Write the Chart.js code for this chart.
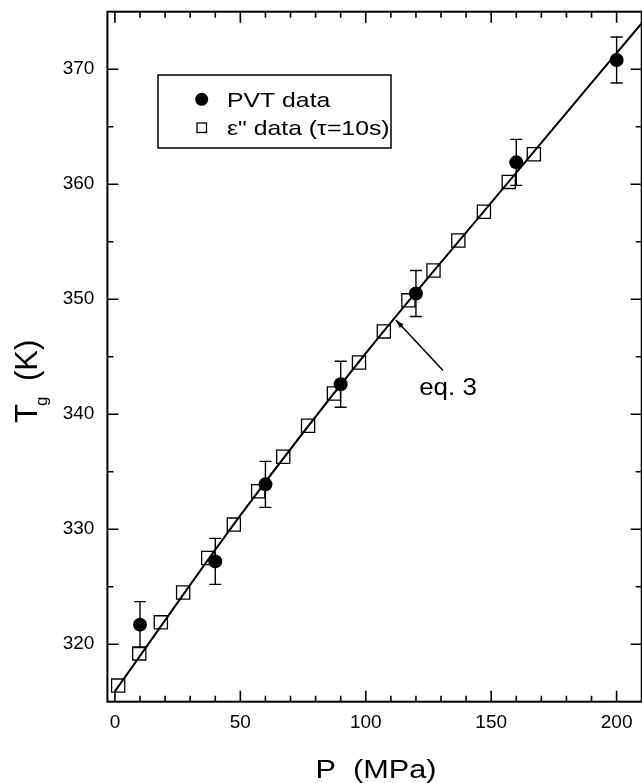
<!DOCTYPE html>
<html>
<head>
<meta charset="utf-8">
<script src="https://cdn.jsdelivr.net/npm/chart.js@4.4.0/dist/chart.umd.min.js"></script>
<style>
  html, body { margin: 0; padding: 0; background: #fff; }
  #wrap { width: 642px; height: 783px; }
</style>
</head>
<body>
<div id="wrap"><canvas id="chart" width="642" height="783"></canvas></div>
<script>
// PVT data (filled circles, error bars +-2 K)
const pvtP = [10, 40, 60, 90, 120, 160, 200];
const pvtT = [321.7, 327.2, 333.9, 342.6, 350.5, 361.9, 370.8];
const pvtErr = [2, 2, 2, 2, 2, 2, 2];

// dielectric data, tau = 10 s (open squares)
const epsP = [1.3, 9.7, 18.3, 27.2, 37.2, 47.4, 57.1, 67.1, 77.0, 87.3, 97.3, 107.2, 117.0, 127.0, 136.9, 147.1, 157.0, 167.0];
const epsT = [316.4, 319.2, 321.9, 324.5, 327.5, 330.4, 333.3, 336.3, 339.0, 341.8, 344.5, 347.2, 349.9, 352.5, 355.1, 357.6, 360.2, 362.6];

// eq. 3 curve
const fitP = [0, 50, 100, 150, 210];
const fitT = [315.9, 331.2, 345.3, 358.4, 374.0];

const xTicks = [0, 50, 100, 150, 200];
const yTicks = [320, 330, 340, 350, 360, 370];

const FONT = '"Liberation Sans", Arial, Helvetica, sans-serif';

function toPoints(xs, ys) {
    return xs.map((x, i) => ({ x: x, y: ys[i] }));
}

// text with a horizontal stretch, the scan is a bit wider than Arial
function stretchText(ctx, str, x, y, size, sx, align) {
    ctx.save();
    ctx.font = size + 'px ' + FONT;
    ctx.textBaseline = 'alphabetic';
    const w = ctx.measureText(str).width * sx;
    let left = x;
    if (align === 'center') left = x - w / 2;
    ctx.translate(left, y);
    ctx.scale(sx, 1);
    ctx.textAlign = 'left';
    ctx.fillText(str, 0, 0);
    ctx.restore();
}

// keep the plot box exactly where the scan has it
function noPadding(s) {
    s.paddingLeft = 0;
    s.paddingRight = 0;
    s.paddingTop = 0;
    s.paddingBottom = 0;
}

const framePlugin = {
    id: 'frame',
    afterDatasetsDraw(chart) {
        const ctx = chart.ctx;
        const xs = chart.scales.x;
        const ys = chart.scales.y;
        ctx.save();
        ctx.strokeStyle = '#000';
        ctx.lineWidth = 1.4;
        pvtP.forEach((p, i) => {
            const px = xs.getPixelForValue(p);
            const top = ys.getPixelForValue(pvtT[i] + pvtErr[i]);
            const bot = ys.getPixelForValue(pvtT[i] - pvtErr[i]);
            ctx.beginPath();
            ctx.moveTo(px, top); ctx.lineTo(px, bot);
            ctx.moveTo(px - 6, top); ctx.lineTo(px + 6, top);
            ctx.moveTo(px - 6, bot); ctx.lineTo(px + 6, bot);
            ctx.stroke();
        });
        ctx.restore();
    },
    afterDraw(chart) {
        const ctx = chart.ctx;
        const a = chart.chartArea;
        const xs = chart.scales.x;
        const ys = chart.scales.y;
        ctx.save();
        ctx.strokeStyle = '#000';
        ctx.fillStyle = '#000';

        // frame
        ctx.lineWidth = 2;
        ctx.strokeRect(a.left, a.top, a.right - a.left, a.bottom - a.top);

        // inward ticks on all four sides
        ctx.lineWidth = 1.6;
        ctx.beginPath();
        for (let v = 0; v <= 200; v += 10) {
            const px = xs.getPixelForValue(v);
            const len = v % 50 === 0 ? 11 : 6;
            ctx.moveTo(px, a.bottom); ctx.lineTo(px, a.bottom - len);
            ctx.moveTo(px, a.top); ctx.lineTo(px, a.top + len);
        }
        for (let v = 320; v <= 370; v += 5) {
            const py = ys.getPixelForValue(v);
            const len = v % 10 === 0 ? 11 : 6;
            ctx.moveTo(a.left, py); ctx.lineTo(a.left + len, py);
            ctx.moveTo(a.right, py); ctx.lineTo(a.right - len, py);
        }
        ctx.stroke();

        // legend box
        ctx.lineWidth = 1.5;
        ctx.strokeRect(158, 75, 233, 73);
        ctx.beginPath();
        ctx.arc(201.7, 99.3, 6.5, 0, Math.PI * 2);
        ctx.fill();
        ctx.lineWidth = 1.3;
        ctx.strokeRect(197, 123, 9.5, 9.5);
        stretchText(ctx, 'PVT data', 227, 106.5, 21, 1.18, 'left');
        stretchText(ctx, 'ε" data (τ=10s)', 227, 135, 21, 1.18, 'left');

        // arrow pointing at the eq. 3 line
        const hx = xs.getPixelForValue(112.0), hy = ys.getPixelForValue(348.2);
        const tx = xs.getPixelForValue(130.8), ty = ys.getPixelForValue(343.8);
        ctx.lineWidth = 1.5;
        ctx.beginPath();
        ctx.moveTo(tx, ty); ctx.lineTo(hx, hy);
        ctx.stroke();
        const ang = Math.atan2(hy - ty, hx - tx);
        ctx.beginPath();
        ctx.moveTo(hx, hy);
        ctx.lineTo(hx - 9 * Math.cos(ang - 0.3), hy - 9 * Math.sin(ang - 0.3));
        ctx.lineTo(hx - 9 * Math.cos(ang + 0.3), hy - 9 * Math.sin(ang + 0.3));
        ctx.closePath();
        ctx.fill();
        stretchText(ctx, 'eq. 3', xs.getPixelForValue(121.3), ys.getPixelForValue(341.7), 24, 1.08, 'left');

        // axis titles
        stretchText(ctx, 'P  (MPa)', 376, 778, 26, 1.18, 'center');

        ctx.translate(37, 380);
        ctx.rotate(-Math.PI / 2);
        ctx.textAlign = 'left';
        ctx.textBaseline = 'alphabetic';
        ctx.font = '31px ' + FONT;
        ctx.fillText('T', -43, 0);
        ctx.font = '17px ' + FONT;
        ctx.fillText('g', -26, 10);
        ctx.font = '31px ' + FONT;
        ctx.fillText('(K)', -1, 0);
        ctx.restore();
    }
};

new Chart(document.getElementById('chart'), {
    type: 'scatter',
    data: {
        datasets: [
            {
                label: 'PVT data',
                data: toPoints(pvtP, pvtT),
                pointStyle: 'circle',
                pointRadius: 7,
                backgroundColor: '#000',
                borderColor: '#000',
                borderWidth: 0,
            },
            {
                label: 'ε" data (τ=10s)',
                data: toPoints(epsP, epsT),
                pointStyle: 'rect',
                pointRadius: 9.3,
                backgroundColor: 'rgba(0,0,0,0)',
                borderColor: '#000',
                borderWidth: 1.3,
            },
            {
                label: 'eq. 3',
                data: toPoints(fitP, fitT),
                showLine: true,
                pointRadius: 0,
                borderColor: '#000',
                borderWidth: 2,
                cubicInterpolationMode: 'monotone',
            },
        ]
    },
    options: {
        responsive: false,
        animation: false,
        layout: {
            autoPadding: false,
            padding: { top: 11.7, right: 0.3, left: 0, bottom: 0 },
        },
        plugins: {
            legend: { display: false },
            tooltip: { enabled: false },
        },
        scales: {
            x: {
                type: 'linear',
                min: -3,
                max: 210,
                afterBuildTicks: (s) => { s.ticks = xTicks.map((v) => ({ value: v })); },
                afterFit: (s) => { s.height = 81.3; noPadding(s); },
                ticks: {
                    color: '#000',
                    padding: 10,
                    maxRotation: 0,
                    autoSkip: false,
                    font: { family: FONT, size: 19 },
                },
                grid: { display: false, drawTicks: false },
                border: { display: false },
            },
            y: {
                type: 'linear',
                min: 315,
                max: 375,
                afterBuildTicks: (s) => { s.ticks = yTicks.map((v) => ({ value: v })); },
                afterFit: (s) => { s.width = 107.4; noPadding(s); },
                ticks: {
                    color: '#000',
                    padding: 13,
                    autoSkip: false,
                    font: { family: FONT, size: 19 },
                },
                grid: { display: false, drawTicks: false },
                border: { display: false },
            },
        },
    },
    plugins: [framePlugin],
});
</script>
</body>
</html>
